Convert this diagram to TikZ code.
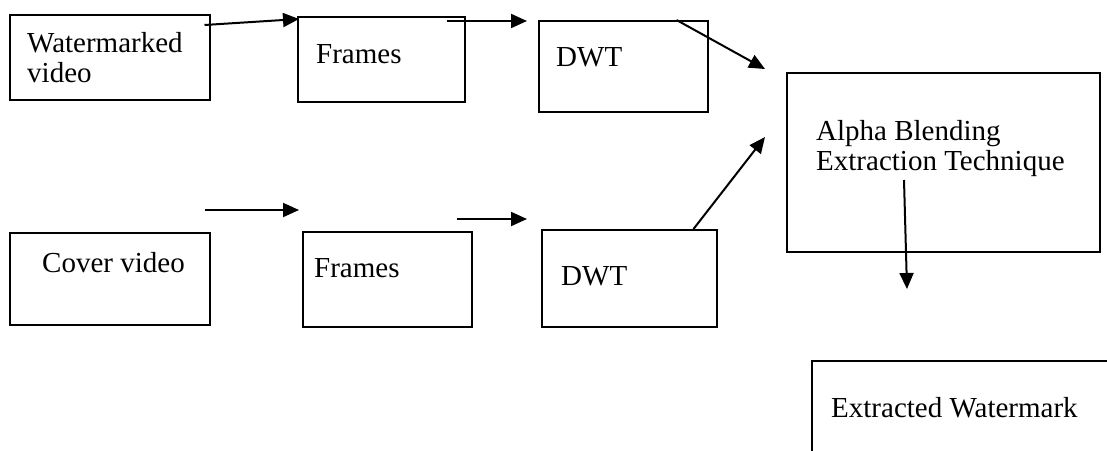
\documentclass[tikz,border=0pt]{standalone}
\usepackage{fontspec}
\setmainfont{Liberation Serif}
\usetikzlibrary{arrows.meta}

\begin{document}
\begin{tikzpicture}[x=1pt, y=-1pt, >={Triangle[length=16pt,width=14pt]},
      box/.style={draw, line width=1.5pt, rectangle, inner sep=0pt, anchor=north west},
      txt/.style={inner sep=0pt, anchor=base west, align=left,
        font=\fontsize{29}{30}\selectfont},
      arr/.style={->, line width=2pt}]
    \useasboundingbox (0,0) rectangle (1107,450);
    \clip (0,0) rectangle (1107,450);
    % upper row
    \node (WV) [box, minimum width=200pt, minimum height=85pt] at (9,14) {};
    \node (F1) [box, minimum width=167pt, minimum height=85pt] at (297,16) {};
    \node (D1) [box, minimum width=169pt, minimum height=91pt] at (538,20) {};
    % lower row
    \node (CV) [box, minimum width=200pt, minimum height=92pt] at (9,232) {};
    \node (F2) [box, minimum width=169pt, minimum height=95pt] at (302,231) {};
    \node (D2) [box, minimum width=175pt, minimum height=97pt] at (541,229) {};
    % right side
    \node (ABE) [box, minimum width=313pt, minimum height=179pt] at (786,72) {};
    \node (EW) [box, minimum width=320pt, minimum height=110pt] at (811,360) {};
    % texts (base = last line)
    \node (WVt) [txt] at ([shift={(18,68)}]WV.north west) {Watermarked\\video};
    \node (F1t) [txt] at ([shift={(19,47)}]F1.north west) {Frames};
    \node (D1t) [txt] at ([shift={(18,46)}]D1.north west) {DWT};
    \node (CVt) [txt] at ([shift={(33,40)}]CV.north west) {Cover video};
    \node (F2t) [txt] at ([shift={(12,46)}]F2.north west) {Frames};
    \node (D2t) [txt] at ([shift={(20,56)}]D2.north west) {DWT};
    \node (ABEt) [txt] at ([shift={(30,98)}]ABE.north west) {Alpha Blending\\Extraction Technique};
    \node (EWt) [txt] at ([shift={(20,57)}]EW.north west) {Extracted Watermark};
    % arrows
    \draw[arr] ([shift={(-6,11)}]WV.north east) -- ([shift={(2,3)}]F1.north west);
    \draw[arr] ([shift={(-19,5)}]F1.north east) -- ([shift={(-11,1)}]D1.north west);
    \draw[arr] ([shift={(-32,0)}]D1.north east) -- ([shift={(-21,-3)}]ABE.north west);
    \draw[arr] ([shift={(-6,-22)}]CV.north east) -- ([shift={(-3,-21)}]F2.north west);
    \draw[arr] ([shift={(-16,-12)}]F2.north east) -- ([shift={(-14,-10)}]D2.north west);
    \draw[arr] ([shift={(-24,0)}]D2.north east) -- ([shift={(-21,65)}]ABE.north west);
    \draw[arr] ([shift={(118,108)}]ABE.north west) -- ([shift={(96,-71)}]EW.north west);
  \end{tikzpicture}
\end{document}
